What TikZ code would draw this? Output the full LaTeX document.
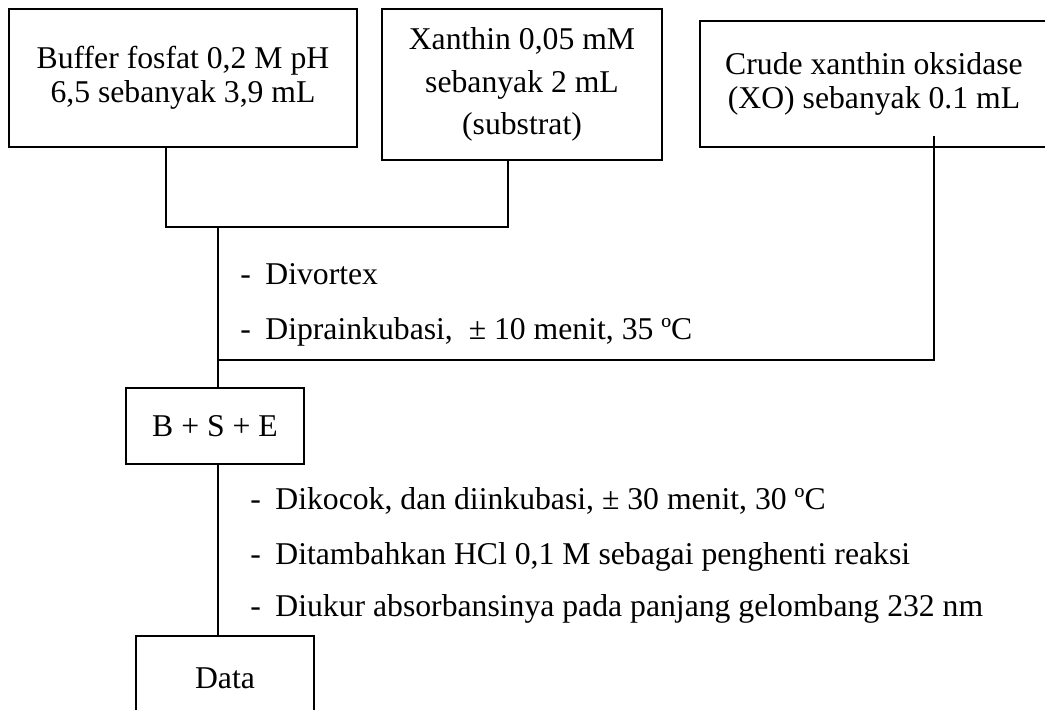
\documentclass[tikz,border=0pt]{standalone}
\usepackage{fontspec}
\setmainfont{Liberation Serif}
\begin{document}
\begin{tikzpicture}[x=0.5pt,y=-0.5pt,
  box/.style={draw, line width=1.1pt, inner sep=0pt, align=center, font=\fontsize{15.85}{17}\selectfont},
  lbl/.style={inner sep=0pt, anchor=base west, font=\fontsize{15.85}{17}\selectfont},
  conn/.style={line width=1pt}]
\useasboundingbox (0,0) rectangle (1045,709);
\clip (0,0) rectangle (1045,709);
\node[box, minimum width=174pt, minimum height=69pt] (b1) at (183,78) {Buffer fosfat 0,2 M pH\\6,5 sebanyak 3,9 mL};
\node[box, minimum width=140pt, minimum height=75.5pt, font=\fontsize{15.85}{21.25}\selectfont] (b2) at (522,84.5) {Xanthin 0,05 mM\\sebanyak 2 mL\\(substrat)};
\node[box, minimum width=174pt, minimum height=63pt] (b3) at (874,84) {Crude xanthin oksidase\\(XO) sebanyak 0.1 mL};
\node[box, minimum width=89pt, minimum height=38pt] (bse) at (215,426) {B + S + E};
\node[box, minimum width=89pt, minimum height=42pt] (data) at (225,678) {Data};
\coordinate (jl) at (166,227);
\coordinate (jr) at (508,227);
\coordinate (j1) at (218,227);
\coordinate (j2) at (218,360);
\coordinate (k) at (934,360);
\coordinate (k0) at (934,136);
\draw[conn] (b1.south -| jl) -- (jl) -- (jr) -- (b2.south -| jr);
\draw[conn] (j1) -- (j1 |- bse.north);
\draw[conn] (j2) -- (k) -- (k0);
\draw[conn] (bse.south -| j1) -- (data.north -| j1);
\node[lbl] (t1) at (240,284) {\makebox[12.5pt][l]{-}Divortex};
\node[lbl] (t2) at (240,339) {\makebox[12.5pt][l]{-}Diprainkubasi,~~± 10 menit, 35 ºC};
\node[lbl] (t3) at (250,509) {\makebox[12.5pt][l]{-}Dikocok, dan diinkubasi, ± 30 menit, 30 ºC};
\node[lbl] (t4) at (250,564) {\makebox[12.5pt][l]{-}Ditambahkan HCl 0,1 M sebagai penghenti reaksi};
\node[lbl] (t5) at (250,616) {\makebox[12.5pt][l]{-}Diukur absorbansinya pada panjang gelombang 232 nm};
\end{tikzpicture}
\end{document}
